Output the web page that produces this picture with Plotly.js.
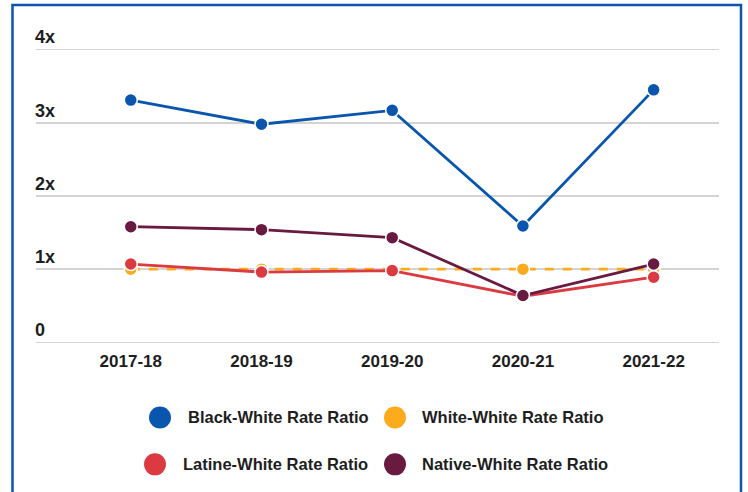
<!DOCTYPE html>
<html><head><meta charset="utf-8">
<script src="https://cdn.plot.ly/plotly-3.0.1.min.js"></script>
<style>html,body{margin:0;padding:0;background:#fff}#c{width:748px;height:492px}</style>
</head><body><div id="c"></div>
<script>
const years = ["2017-18","2018-19","2019-20","2020-21","2021-22"];
const blackWhite = [3.31, 2.98, 3.17, 1.59, 3.45];
const whiteWhite = [1.0, 1.0, 1.0, 1.0, 1.0];
const latineWhite = [1.07, 0.96, 0.98, 0.63, 0.89];
const nativeWhite = [1.58, 1.54, 1.43, 0.64, 1.07];
const yTickVals = [0, 1, 2, 3, 4];
const yTickText = ["0", "1x", "2x", "3x", "4x"];
const names = ["Black-White Rate Ratio","White-White Rate Ratio","Latine-White Rate Ratio","Native-White Rate Ratio"];
const colors = ["#0a55ad","#fcab1c","#db3b40","#691a40"];

const FONT = "'Liberation Sans', Arial, sans-serif";
function tr(y, i, dash){
  return {x: years, y: y, name: names[i], type: 'scatter', mode: 'lines+markers',
    line: {color: colors[i], width: 2.8, dash: dash || 'solid'},
    marker: {color: colors[i], size: 13, line: {color: '#fff', width: 1.5}},
    cliponaxis: false, showlegend: false};
}
const data = [tr(whiteWhite,1,'dash'), tr(latineWhite,2), tr(nativeWhite,3), tr(blackWhite,0)];

const Y0 = -0.05, Y1 = 4.35, UNIT = 73.35, ZERO = 342.7;
const L = 36, R = 719;
const T = ZERO - Y1 * UNIT, B = ZERO - Y0 * UNIT;
const px = v => (v - L) / (R - L);
const py = v => (B - v) / (B - T);

const legPos = [
  {cx: 160, tx: 186, cy: 418},
  {cx: 395, tx: 420, cy: 418},
  {cx: 155, tx: 181, cy: 465},
  {cx: 395, tx: 420, cy: 465}
];
const shapes = [{type:'rect', xref:'paper', yref:'paper', x0: px(12.5), x1: px(741), y0: py(520), y1: py(4.5),
  line:{color:'#0a55ad', width:2.5}, fillcolor:'rgba(0,0,0,0)', layer:'below'}];
const annotations = [];
legPos.forEach((p, i) => {
  shapes.push({type:'circle', xref:'paper', yref:'paper', xsizemode:'pixel', ysizemode:'pixel',
    xanchor: px(p.cx), yanchor: py(p.cy), x0:-11, x1:11, y0:-11, y1:11,
    fillcolor: colors[i], line:{width:0}});
  annotations.push({xref:'paper', yref:'paper', x: px(p.tx), y: py(p.cy), xanchor:'left', yanchor:'middle',
    text: names[i], showarrow:false, font:{family: FONT, size: 16.5, weight: 700, color:'#1e1e1e'}});
});

const layout = {
  width: 748, height: 492,
  margin: {l: L, r: 748 - R, t: T, b: 492 - B},
  paper_bgcolor: '#fff', plot_bgcolor: '#fff',
  showlegend: false,
  xaxis: {type:'category', range:[-0.725, 4.5], showgrid:false, zeroline:false, showline:false,
    ticks:'', ticklabelstandoff: 3,
    tickfont:{family: FONT, size: 17, weight: 700, color:'#1e1e1e'}, fixedrange:true},
  yaxis: {range:[Y0, Y1], tickvals: yTickVals, ticktext: yTickText, ticklabelposition:'inside top',
    ticklabelstandoff: -4,
    showgrid:true, gridcolor:'#d4d4d4', gridwidth:1.5, zeroline:false, showline:false, ticks:'',
    tickfont:{family: FONT, size: 18, weight: 700, color:'#1e1e1e'}, fixedrange:true},
  shapes: shapes, annotations: annotations
};
Plotly.newPlot('c', data, layout, {displayModeBar:false, staticPlot:true});
</script></body></html>
